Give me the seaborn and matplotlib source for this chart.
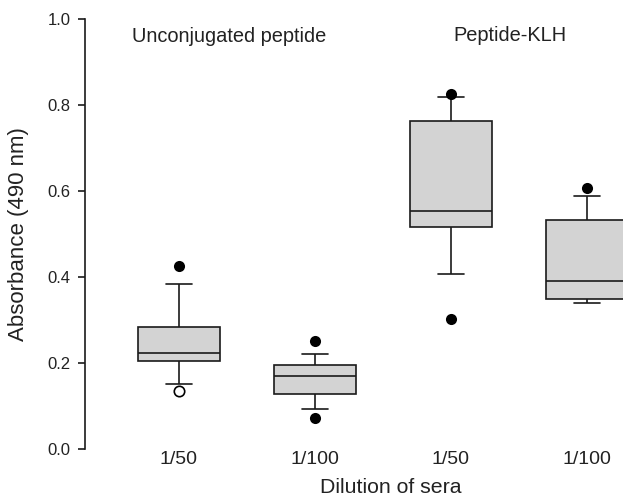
import matplotlib
matplotlib.use("Agg")
import matplotlib.pyplot as plt
import seaborn as sns
import pandas as pd

# ---- data ----
groups = ["Unconjugated 1/50", "Unconjugated 1/100", "KLH 1/50", "KLH 1/100"]
tick_labels = ["1/50", "1/100", "1/50", "1/100"]
whisker_low = [0.151, 0.094, 0.408, 0.339]
q1 = [0.204, 0.129, 0.517, 0.350]
median = [0.2245, 0.170, 0.554, 0.391]
q3 = [0.284, 0.196, 0.764, 0.533]
whisker_high = [0.383, 0.221, 0.818, 0.589]
dot_groups = ["Unconjugated 1/50", "Unconjugated 1/100", "Unconjugated 1/100",
              "KLH 1/50", "KLH 1/50", "KLH 1/100"]
dot_values = [0.425, 0.252, 0.0735, 0.825, 0.302, 0.608]
open_groups = ["Unconjugated 1/50"]
open_values = [0.1355]
group_titles = ["Unconjugated peptide", "Peptide-KLH"]

# ---- build tables ----
rows = []
for g, a, b, c, d, e in zip(groups, whisker_low, q1, median, q3, whisker_high):
    for v in (a, b, c, d, e):
        rows.append({"group": g, "value": v})
box_df = pd.DataFrame(rows)
dot_df = pd.DataFrame({"group": dot_groups, "value": dot_values})
open_df = pd.DataFrame({"group": open_groups, "value": open_values})

sns.set_style("ticks")
plt.rcParams["font.family"] = ["Liberation Sans", "DejaVu Sans"]

fig = plt.figure(figsize=(6.23, 4.96), dpi=100)
ax = fig.add_axes([85 / 623, 0.0942, 1 - 85 / 623, 0.8675])

edge = "#1a1a1a"
sns.boxplot(data=box_df, x="group", y="value", order=groups, whis=(0, 100),
            width=0.603, color="#d3d3d3", saturation=1, linecolor=edge,
            linewidth=1.2, fliersize=0, capwidths=0.19, ax=ax)
sns.stripplot(data=dot_df, x="group", y="value", order=groups, jitter=False,
              color="black", size=8, linewidth=0, zorder=5, ax=ax)
sns.stripplot(data=open_df, x="group", y="value", order=groups, jitter=False,
              color="white", edgecolor="black", size=7.5, linewidth=1.2,
              zorder=5, ax=ax)

ax.set_xlim(-0.691, 3.265)
ax.set_ylim(0, 1.0)
ax.set_yticks([0.0, 0.2, 0.4, 0.6, 0.8, 1.0])
ax.set_yticklabels(["0.0", "0.2", "0.4", "0.6", "0.8", "1.0"])
ax.set_xticks(range(len(groups)))
ax.set_xticklabels(tick_labels)

ax.tick_params(axis="y", length=5, width=1.2, pad=5.5, labelsize=12, color=edge,
               labelcolor="#222222")
ax.tick_params(axis="x", length=0, pad=1, labelsize=14, labelcolor="#222222")

for s in ["top", "right", "bottom"]:
    ax.spines[s].set_visible(False)
ax.spines["left"].set_linewidth(1.2)
ax.spines["left"].set_color(edge)

ax.set_xlabel("Dilution of sera", fontsize=15.3, color="#222222")
ax.set_ylabel("Absorbance (490 nm)", fontsize=16, color="#222222")
ax.xaxis.set_label_coords(0.569, -0.066)
ax.yaxis.set_label_coords(-0.104, 0.5)

ax.text(0.37, 0.959, group_titles[0], ha="center", va="center", fontsize=14.4,
        color="#222222")
ax.text(2.43, 0.961, group_titles[1], ha="center", va="center", fontsize=14.4,
        color="#222222")

fig.savefig("out.png", dpi=100)
